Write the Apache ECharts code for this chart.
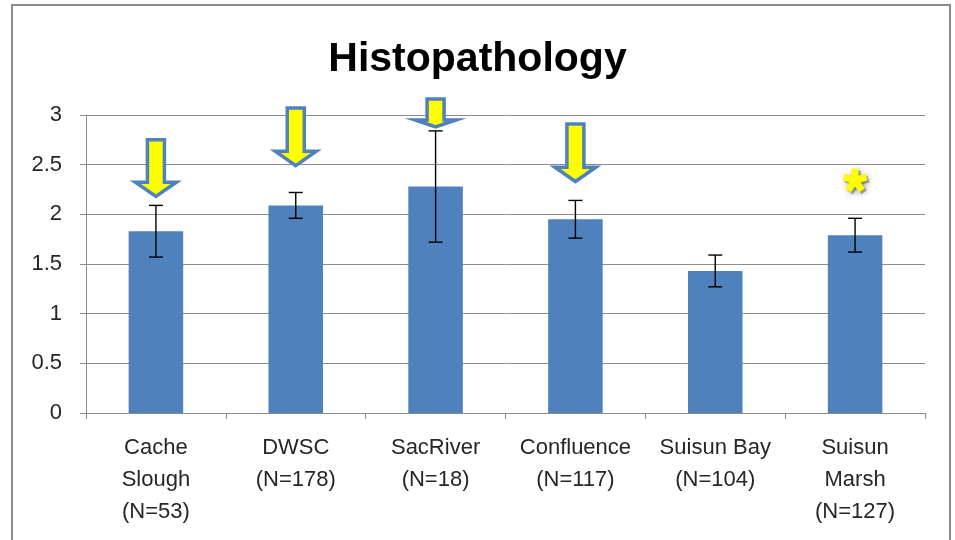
<!DOCTYPE html>
<html>
<head>
<meta charset="utf-8">
<title>Histopathology</title>
<script src="https://cdn.jsdelivr.net/npm/echarts@6/dist/echarts.min.js"></script>
<style>
  html, body { margin: 0; padding: 0; background: #ffffff; }
  #chart { width: 955px; height: 540px; }
</style>
</head>
<body>
<div id="chart"></div>
<script>
// Sites sampled, with sample sizes
const categories = [
  'Cache\nSlough\n(N=53)',
  'DWSC\n(N=178)',
  'SacRiver\n(N=18)',
  'Confluence\n(N=117)',
  'Suisun Bay\n(N=104)',
  'Suisun\nMarsh\n(N=127)'
];

// Mean histopathology score per site and the error-bar half-width
const meanScores = [1.83, 2.09, 2.28, 1.95, 1.43, 1.79];
const errorHalf = [0.26, 0.13, 0.56, 0.19, 0.16, 0.17];

// Arrow markers: site index, top of arrow and arrow tip (score units)
const arrowSites = [0, 1, 2, 3];
const arrowTop = [2.75, 3.07, 3.16, 2.91];
const arrowTip = [2.18, 2.49, 2.88, 2.33];

// Asterisk marker: site index and score level
const starSites = [5];
const starLevels = [2.34];

// Y axis range and step
const yMin = 0;
const yMax = 3;
const yStep = 0.5;

const BLUE = '#4F81BD';
const TEXT = '#262626';
const GRID = '#8c8c8c';
const FONT = '"Liberation Sans", Arial, sans-serif';

const chart = echarts.init(document.getElementById('chart'), null, { renderer: 'canvas' });

const errorData = meanScores.map((m, i) => [i, m - errorHalf[i], m + errorHalf[i]]);
const arrowData = arrowSites.map((s, i) => [s, arrowTop[i], arrowTip[i]]);
const starData = starSites.map((s, i) => [s, starLevels[i]]);

// Vertical error bar with end caps
function renderError(params, api) {
  const i = api.value(0);
  const lo = api.coord([i, api.value(1)]);
  const hi = api.coord([i, api.value(2)]);
  const x = lo[0];
  const cap = 7;
  const style = { stroke: '#000000', lineWidth: 1.4 };
  return {
    type: 'group',
    children: [
      { type: 'line', shape: { x1: x, y1: lo[1], x2: x, y2: hi[1] }, style },
      { type: 'line', shape: { x1: x - cap, y1: lo[1], x2: x + cap, y2: lo[1] }, style },
      { type: 'line', shape: { x1: x - cap, y1: hi[1], x2: x + cap, y2: hi[1] }, style }
    ]
  };
}

// Downward block arrow from top level to tip level
function renderArrow(params, api) {
  const i = api.value(0);
  const top = api.coord([i, api.value(1)]);
  const tip = api.coord([i, api.value(2)]);
  const x = top[0];
  const h = tip[1] - top[1];
  const headH = h * 0.25;
  const shaft = 8.5;
  const head = 20.5;
  const neck = tip[1] - headH;
  return {
    type: 'polygon',
    shape: {
      points: [
        [x - shaft, top[1]], [x + shaft, top[1]], [x + shaft, neck],
        [x + head, neck], [x, tip[1]], [x - head, neck], [x - shaft, neck]
      ]
    },
    style: { fill: '#FFFF00', stroke: BLUE, lineWidth: 3.5, lineJoin: 'miter' }
  };
}

// Five-armed asterisk: a blurred grey copy underneath, yellow on top
function renderStar(params, api) {
  const c = api.coord([api.value(0), api.value(1)]);
  const len = 12;
  const arms = (dx, dy, style) => {
    const out = [];
    for (let k = 0; k < 5; k++) {
      const a = -Math.PI / 2 + k * 2 * Math.PI / 5;
      out.push({
        type: 'line',
        shape: {
          x1: c[0] + dx, y1: c[1] + dy,
          x2: c[0] + dx + len * Math.cos(a), y2: c[1] + dy + len * Math.sin(a)
        },
        style
      });
    }
    return out;
  };
  const shadow = arms(2, 2, {
    stroke: 'rgba(110,110,110,0.6)', lineWidth: 7, lineCap: 'butt',
    shadowBlur: 6, shadowColor: 'rgba(90,90,90,0.8)'
  });
  const face = arms(0, 0, { stroke: '#FFFF00', lineWidth: 7, lineCap: 'butt' });
  return { type: 'group', children: shadow.concat(face) };
}

const option = {
  backgroundColor: '#ffffff',
  animation: false,
  title: {
    text: 'Histopathology',
    left: 'center',
    top: 39,
    padding: 0,
    textStyle: { fontFamily: FONT, fontSize: 41, fontWeight: 'bold', color: '#000000' }
  },
  graphic: [
    {
      type: 'rect',
      shape: { x: 12, y: 5, width: 938, height: 545 },
      style: { fill: 'none', stroke: GRID, lineWidth: 2 },
      silent: true,
      z: -1
    }
  ],
  grid: { left: 86, right: 30, top: 115, bottom: 127, containLabel: false },
  xAxis: {
    type: 'category',
    data: categories,
    boundaryGap: true,
    axisLine: { show: true, lineStyle: { color: GRID, width: 1 } },
    axisTick: { show: true, alignWithLabel: false, length: 6, lineStyle: { color: GRID } },
    axisLabel: {
      interval: 0,
      margin: 19,
      color: TEXT,
      fontFamily: FONT,
      fontSize: 22,
      lineHeight: 32,
      align: 'center'
    },
    splitLine: { show: false }
  },
  yAxis: {
    type: 'value',
    min: yMin,
    max: yMax,
    interval: yStep,
    axisLine: { show: true, lineStyle: { color: GRID, width: 1 } },
    axisTick: { show: true, length: 6, lineStyle: { color: GRID } },
    axisLabel: { margin: 24, color: TEXT, fontFamily: FONT, fontSize: 22 },
    splitLine: { show: true, lineStyle: { color: GRID, width: 1 } }
  },
  series: [
    {
      name: 'Mean score',
      type: 'bar',
      data: meanScores,
      barWidth: '39%',
      itemStyle: { color: BLUE },
      z: 2
    },
    {
      name: 'Error',
      type: 'custom',
      renderItem: renderError,
      data: errorData,
      encode: { x: 0, y: [1, 2] },
      z: 3
    },
    {
      name: 'Arrows',
      type: 'custom',
      renderItem: renderArrow,
      data: arrowData,
      encode: { x: 0, y: [1, 2] },
      clip: false,
      z: 4
    },
    {
      name: 'Star',
      type: 'custom',
      renderItem: renderStar,
      data: starData,
      encode: { x: 0, y: 1 },
      clip: false,
      z: 4
    }
  ]
};

chart.setOption(option);
</script>
</body>
</html>
